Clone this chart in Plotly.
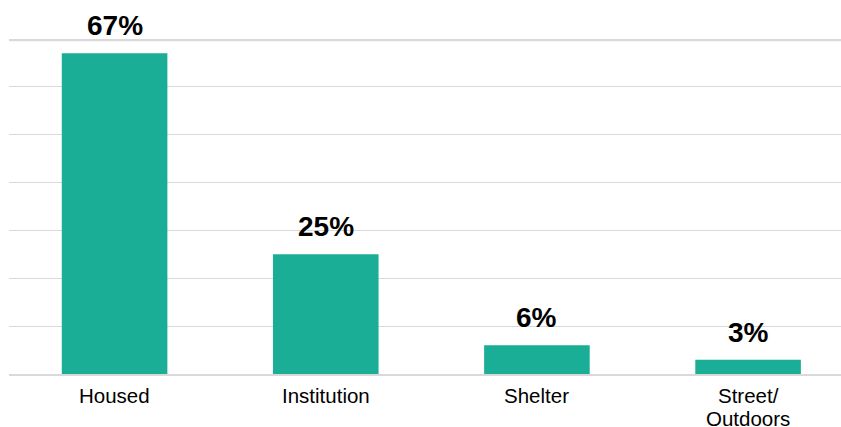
import plotly.graph_objects as go

# Where people were living
categories = ["Housed", "Institution", "Shelter", "Street/<br>Outdoors"]
shares = [67, 25, 6, 3]
value_labels = ["67%", "25%", "6%", "3%"]

y_max = 70
bar_color = "#1bae97"
grid_color = "#d9d9d9"
font_family = "Liberation Sans, Arial, sans-serif"
label_size = 20.5
line_step = 23

fig = go.Figure(
    go.Bar(
        x=categories,
        y=shares,
        width=0.5,
        marker=dict(color=bar_color, line=dict(width=0)),
        hoverinfo="skip",
    )
)

# bold percentages above each bar
for cat, val, lab in zip(categories, shares, value_labels):
    fig.add_annotation(
        x=cat, y=val, text=f"<b>{lab}</b>", showarrow=False,
        yanchor="bottom", yshift=10,
        font=dict(family=font_family, size=28, color="#000000"),
    )

# category names under the axis, one line at a time for tighter leading
for cat in categories:
    for i, line in enumerate(cat.split("<br>")):
        fig.add_annotation(
            x=cat, xref="x", y=0, yref="paper", text=line, showarrow=False,
            yanchor="top", yshift=-9 - i * line_step, borderpad=0,
            font=dict(family=font_family, size=label_size, color="#000000"),
        )

# heavier rule along the top of the value range
fig.add_shape(
    type="line", xref="paper", yref="y", x0=0, x1=1, y0=y_max, y1=y_max,
    line=dict(color=grid_color, width=4.5), layer="below",
)

fig.update_layout(
    width=841, height=427,
    margin=dict(l=9, r=0, t=39, b=53),
    paper_bgcolor="white", plot_bgcolor="white",
    showlegend=False,
    font=dict(family=font_family, color="#000000"),
    xaxis=dict(
        range=[-0.5, 3.44], showgrid=False, ticks="", automargin=False,
        showline=True, linecolor=grid_color, linewidth=2,
        showticklabels=False,
    ),
    yaxis=dict(
        range=[0, y_max], dtick=10, showgrid=True, gridcolor=grid_color,
        gridwidth=1, showticklabels=False, zeroline=False, ticks="",
        automargin=False,
    ),
)

fig.write_html("out.html")
